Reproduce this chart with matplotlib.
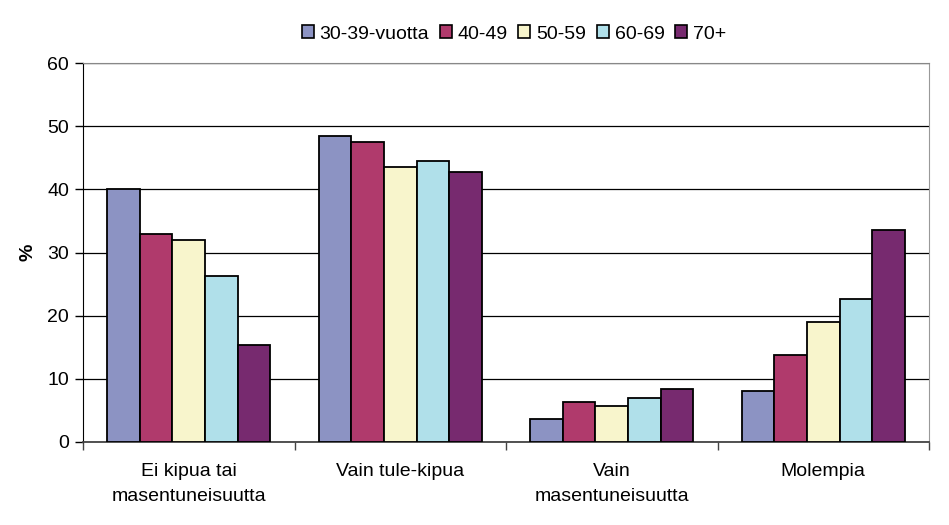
import matplotlib
matplotlib.use('Agg')
import matplotlib.pyplot as plt
import numpy as np

plt.rcParams['font.family'] = ['Liberation Sans', 'DejaVu Sans']

categories = ['Ei kipua tai\nmasentuneisuutta', 'Vain tule-kipua',
              'Vain\nmasentuneisuutta', 'Molempia']
groups = ['30-39-vuotta', '40-49', '50-59', '60-69', '70+']
v30 = [40.0, 48.5, 3.7, 8.1]
v40 = [32.9, 47.5, 6.4, 13.7]
v50 = [31.9, 43.5, 5.7, 19.0]
v60 = [26.3, 44.5, 7.0, 22.7]
v70 = [15.3, 42.8, 8.4, 33.6]
colors = ['#8C93C3', '#B03A6C', '#F8F5CC', '#B0E0EA', '#772A6F']

series = [v30, v40, v50, v60, v70]

fig = plt.figure(figsize=(9.49, 5.25), dpi=100)
ax = fig.add_axes([83 / 949, 1 - 442 / 525, 846 / 949, 379 / 525])

x = np.arange(len(categories))
w = 0.154
for i, (vals, c, lab) in enumerate(zip(series, colors, groups)):
    ax.bar(x + (i - 2) * w, vals, w, color=c, edgecolor='black',
           linewidth=1.3, label=lab, zorder=3)

ax.set_xlim(-0.5, 3.5)
ax.set_ylim(0, 60)
ax.set_yticks(range(0, 61, 10))
ax.yaxis.grid(True, color='black', linewidth=0.9, zorder=0)
ax.set_xticks(x)
ax.set_xticklabels(categories, fontsize=14, linespacing=1.65)
ax.set_xticks(np.arange(-0.5, 4, 1), minor=True)
ax.tick_params(axis='x', which='major', length=0, pad=15)
ax.tick_params(axis='x', which='minor', length=6, width=1, color='#444444')
ax.tick_params(axis='y', length=6, width=1, labelsize=14, pad=4)
for lab in ax.get_xticklabels():
    lab.set_verticalalignment('top')

ax.spines['left'].set_color('black')
ax.spines['bottom'].set_color('#444444')
ax.spines['bottom'].set_linewidth(1.3)
ax.spines['right'].set_color('#999999')
ax.spines['top'].set_color('#888888')

ax.set_ylabel('%', fontsize=14, fontweight='bold', labelpad=8)

leg = fig.legend(loc='center', bbox_to_anchor=(514 / 949, 1 - 34 / 525),
                 ncol=5, frameon=False, fontsize=14, handlelength=0.62,
                 handleheight=0.62, handletextpad=0.3, columnspacing=0.55)
for h in leg.legend_handles:
    h.set_linewidth(1.2)

fig.savefig('out.png', dpi=100)
